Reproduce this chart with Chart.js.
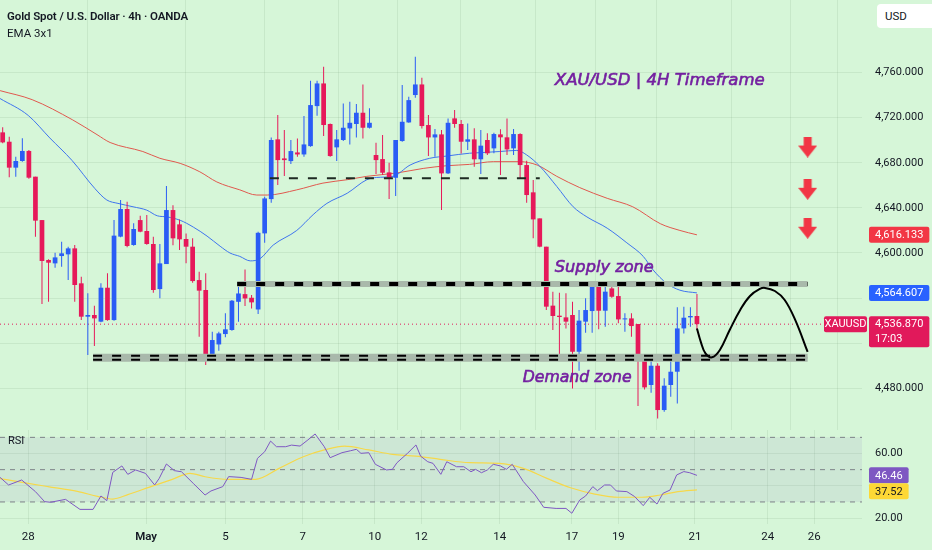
<!DOCTYPE html>
<html>
<head>
<meta charset="utf-8">
<title>XAU/USD 4H</title>
<script src="https://cdn.jsdelivr.net/npm/chart.js@4.4.1/dist/chart.umd.min.js"></script>
<style>
  html, body { margin: 0; padding: 0; }
  body { width: 932px; height: 550px; overflow: hidden; position: relative; background: #d6f6d8;
         font-family: Roboto, "Noto Sans", sans-serif; color: #131722; }
  canvas { position: absolute; left: 0; }
  #priceChart { top: 0; }
  #rsiChart { top: 430px; }
  .legend { position: absolute; left: 7px; white-space: nowrap; z-index: 2; }
  #title { top: 9px; font-size: 11.5px; font-weight: 600; letter-spacing: -0.1px; }
  #ema { top: 26px; font-size: 11.5px; }
  #usd { position: absolute; left: 877px; top: 4px; width: 70px; height: 24px; background: #fff; border-radius: 4px;
         font-size: 11.5px; line-height: 24px; padding-left: 8px; box-sizing: border-box; z-index: 2; }
</style>
</head>
<body>
<canvas id="priceChart" width="932" height="430"></canvas>
<canvas id="rsiChart" width="932" height="120"></canvas>
<div id="title" class="legend">Gold Spot / U.S. Dollar · 4h · OANDA</div>
<div id="ema" class="legend">EMA 3x1</div>
<div id="usd">USD</div>
<script>
// 4h candles, index 0 = first bar on the left
const opens = [4707.0, 4698.7, 4675.7, 4681.6, 4690.5, 4667.7, 4629.2, 4593.8, 4590.8, 4597.3,
  4598.8, 4604.1, 4573.1, 4543.5, 4545.0, 4539.1, 4569.2, 4540.5, 4614.5, 4639.0,
  4607.1, 4629.2, 4619.5, 4608.0, 4568.0, 4590.2, 4638.1, 4625.4, 4612.4, 4605.6,
  4576.0, 4567.2, 4508.0, 4518.9, 4528.1, 4531.7, 4556.7, 4563.5, 4560.3, 4549.9,
  4617.4, 4647.8, 4700.8, 4683.9, 4681.5, 4689.2, 4687.4, 4694.8, 4730.3, 4750.4,
  4714.4, 4693.7, 4700.2, 4710.5, 4714.4, 4724.4, 4711.1, 4686.9, 4683.3, 4671.5,
  4666.7, 4699.3, 4715.8, 4740.1, 4749.5, 4713.5, 4702.5, 4705.2, 4670.6, 4719.4,
  4714.4, 4698.7, 4700.8, 4683.1, 4700.2, 4692.8, 4705.2, 4702.6, 4692.8, 4705.5,
  4678.0, 4653.8, 4630.7, 4605.6, 4553.3, 4544.4, 4542.9, 4545.0, 4512.4, 4539.1,
  4548.5, 4571.6, 4548.8, 4568.6, 4561.8, 4541.1, 4542.0, 4537.0, 4506.5, 4482.9,
  4500.0, 4460.7, 4482.9, 4494.7, 4533.1, 4542.9, 4544.1];
const highs = [4711.5, 4703.2, 4685.4, 4701.7, 4691.3, 4667.7, 4629.2, 4594.4, 4600.3, 4610.0,
  4605.6, 4607.1, 4579.0, 4564.2, 4553.3, 4573.1, 4582.0, 4629.2, 4647.0, 4645.5,
  4626.3, 4633.1, 4633.7, 4614.5, 4608.0, 4659.4, 4642.3, 4629.8, 4617.4, 4613.0,
  4583.4, 4582.0, 4530.2, 4530.2, 4546.5, 4558.3, 4573.1, 4585.4, 4562.7, 4618.8,
  4649.9, 4702.5, 4722.3, 4709.0, 4700.2, 4701.6, 4721.5, 4752.8, 4752.8, 4765.2,
  4714.9, 4709.0, 4732.7, 4734.2, 4732.1, 4749.5, 4728.3, 4697.8, 4704.6, 4680.1,
  4700.2, 4749.0, 4738.6, 4774.1, 4755.5, 4722.3, 4709.9, 4709.0, 4719.4, 4726.8,
  4717.9, 4714.9, 4710.6, 4709.1, 4706.1, 4706.7, 4709.7, 4719.4, 4710.0, 4706.1,
  4681.9, 4664.7, 4630.7, 4605.6, 4565.7, 4564.8, 4564.2, 4556.8, 4549.4, 4559.8,
  4573.7, 4572.2, 4570.1, 4573.1, 4570.1, 4546.5, 4546.5, 4537.0, 4508.0, 4505.0,
  4502.1, 4488.8, 4505.0, 4551.8, 4552.4, 4551.8, 4563.6];
const lows = [4697.3, 4667.1, 4667.7, 4681.0, 4665.9, 4614.5, 4554.7, 4556.8, 4587.0, 4587.9,
  4576.0, 4556.8, 4540.5, 4509.5, 4517.5, 4538.5, 4540.0, 4540.0, 4613.9, 4605.0,
  4606.5, 4618.3, 4607.4, 4564.8, 4559.8, 4590.2, 4606.8, 4602.6, 4590.8, 4573.7,
  4525.7, 4500.6, 4506.5, 4513.3, 4525.2, 4531.1, 4539.0, 4552.9, 4550.8, 4545.8,
  4609.1, 4644.6, 4660.2, 4668.2, 4678.9, 4685.4, 4685.4, 4694.2, 4721.7, 4703.7,
  4685.4, 4681.5, 4699.3, 4696.3, 4702.5, 4701.6, 4710.5, 4670.0, 4669.1, 4647.8,
  4650.5, 4698.7, 4715.5, 4737.7, 4710.5, 4686.0, 4685.4, 4638.1, 4670.0, 4711.1,
  4688.3, 4691.3, 4676.6, 4670.1, 4686.9, 4688.4, 4669.2, 4686.9, 4686.9, 4666.2,
  4644.6, 4613.0, 4605.0, 4549.4, 4531.7, 4510.4, 4533.1, 4479.9, 4495.6, 4529.3,
  4529.3, 4532.3, 4534.6, 4560.4, 4537.6, 4530.2, 4525.7, 4464.2, 4479.0, 4476.1,
  4453.3, 4459.2, 4472.5, 4466.6, 4528.7, 4534.6, 4531.7];
const closes = [4698.1, 4675.7, 4681.6, 4690.5, 4666.8, 4628.7, 4592.9, 4591.4, 4596.1, 4599.7,
  4604.1, 4571.6, 4543.5, 4545.0, 4542.0, 4569.2, 4540.5, 4615.4, 4639.0, 4606.2,
  4621.3, 4618.9, 4608.0, 4567.2, 4590.8, 4638.1, 4613.0, 4612.1, 4605.6, 4575.1,
  4566.6, 4509.5, 4522.8, 4528.7, 4532.3, 4557.7, 4564.1, 4559.7, 4556.2, 4617.9,
  4648.4, 4700.2, 4682.4, 4682.4, 4690.4, 4687.4, 4696.3, 4731.2, 4750.4, 4713.5,
  4686.0, 4700.8, 4711.1, 4715.5, 4724.4, 4711.1, 4715.5, 4682.4, 4671.2, 4666.7,
  4700.2, 4716.4, 4735.6, 4749.5, 4712.6, 4702.5, 4705.2, 4670.6, 4715.5, 4714.4,
  4698.7, 4700.8, 4683.1, 4695.2, 4688.4, 4705.5, 4702.6, 4691.9, 4705.5, 4678.0,
  4651.4, 4629.8, 4605.6, 4552.4, 4544.1, 4543.2, 4539.1, 4512.4, 4540.0, 4549.4,
  4571.6, 4548.8, 4565.7, 4561.2, 4541.1, 4542.0, 4535.2, 4508.0, 4480.8, 4500.0,
  4460.7, 4482.3, 4494.7, 4533.1, 4542.6, 4544.1, 4536.87];

// EMA lines, read at bar positions
const emaFastX = [-0.4, 3.9, 7.2, 10.6, 14.1, 15.9, 17.6, 19.9, 22.0, 23.6, 25.1, 27.1, 29.1, 31.2, 33.2, 34.7,
  36.2, 37.8, 39.3, 41.3, 44.9, 47.4, 49.5, 52.6, 55.6, 57.1, 59.6, 62.2, 65.2, 67.8, 71.3, 72.9, 75.9, 78.5,
  80.0, 82.0, 84.6, 87.1, 89.2, 92.3, 95.3, 97.8, 99.3, 101.4, 103.4, 106];
const emaFastY = [4737, 4722, 4702, 4682, 4657, 4647, 4644, 4641, 4638, 4633, 4632, 4629, 4623, 4615, 4606, 4600,
  4597, 4593, 4595, 4607, 4620, 4634, 4644, 4653, 4665, 4667, 4668, 4678, 4684, 4686, 4688.5, 4689, 4690, 4691,
  4687, 4677, 4659, 4641, 4632, 4622, 4609, 4597, 4585, 4573, 4567, 4564.6];
const emaSlowX = [-0.4, 4.5, 10.7, 14.4, 16.4, 21.4, 24.0, 27.1, 30.1, 32.7, 36.2, 38.8, 40.4, 44.9, 48.9, 52.6,
  55.6, 60.2, 64.2, 67.8, 71.3, 74.9, 79.0, 81.6, 84.6, 88.1, 92.3, 96.2, 100.4, 103.4, 106];
const emaSlowY = [4744, 4736, 4718, 4705, 4698, 4690, 4684, 4679.5, 4672, 4663, 4656, 4651.4, 4651.4, 4656, 4662, 4665,
  4668, 4671, 4675, 4677.4, 4678.6, 4681, 4681, 4678, 4668, 4658, 4648.5, 4641, 4626, 4620, 4616.1];

// RSI pane
const rsiX = [-0.4, 0.9, 2.9, 5.0, 6.4, 7.3, 9.6, 11.8, 13.8, 15.0,
  15.9, 16.8, 18.2, 19.1, 20.3, 21.8, 23.2, 23.9, 25.0, 26.2,
  27.3, 29.1, 30.9, 31.8, 33.6, 34.5, 36.4, 38.0, 38.9, 40.0,
  40.9, 41.8, 43.2, 44.1, 45.4, 46.6, 47.7, 49.1, 50.0, 51.8,
  53.1, 54.0, 54.7, 55.9, 56.9, 58.6, 59.5, 60.2, 61.8, 63.1,
  63.8, 64.9, 65.7, 66.9, 67.8, 69.3, 70.4, 71.5, 72.2, 73.1,
  74.0, 74.9, 76.0, 76.9, 77.8, 79.5, 81.3, 82.6, 84.5, 86.0,
  86.9, 88.1, 89.0, 90.1, 90.8, 91.9, 92.8, 93.7, 95.3, 96.5,
  97.8, 98.8, 99.9, 100.8, 101.9, 102.9, 104.0, 104.9, 106];
const rsiY = [45.2, 40.5, 43.6, 36.4, 30.2, 29.8, 31.6, 25.4, 25.4, 33.7,
  30.8, 48.3, 52.3, 47.1, 49.8, 47.7, 40.5, 44.6, 53.5, 49.4,
  48.7, 41.5, 34.3, 36.8, 39.5, 45.7, 45.2, 44.0, 57.0, 61.1,
  67.7, 64.2, 64.2, 65.2, 64.6, 68.4, 72.1, 64.2, 57.4, 60.5,
  61.7, 62.6, 60.1, 60.5, 53.3, 49.8, 50.2, 54.3, 60.1, 65.3,
  58.4, 54.9, 53.9, 47.1, 54.9, 51.8, 51.8, 48.7, 50.2, 48.1,
  49.8, 53.3, 52.3, 50.2, 53.3, 42.6, 34.3, 26.7, 26.0, 26.0,
  23.0, 31.2, 33.7, 39.5, 37.0, 40.5, 40.5, 36.8, 36.4, 33.3,
  27.7, 32.9, 28.7, 35.3, 37.4, 46.7, 48.8, 48.1, 46.46];
const rsiMaX = [-0.4, 3.2, 6.9, 11.4, 14.5, 16.8, 19.1, 22.3, 25.9, 28.6, 30.9, 34.5, 38.6, 42.2, 45.9, 49.1,
  52.2, 55.9, 59.5, 63.1, 66.8, 71.3, 75.8, 79.5, 83.1, 86.7, 90.4, 94.0, 97.6, 100.4, 103.1, 106];
const rsiMaY = [44.5, 42.0, 39.5, 36.5, 33.5, 31.8, 34.5, 39.0, 44.0, 47.7, 45.6, 44.0, 44.0, 50.8, 58.0, 62.2,
  64.6, 62.2, 59.5, 58.4, 56.4, 54.3, 53.9, 50.8, 44.6, 38.8, 34.9, 32.9, 32.9, 34.3, 36.4, 37.52];

// drawn projection and arrows
const pathX = [106.0, 106.6, 107.3, 108.3, 109.5, 111.0, 112.6, 114.1, 115.6, 116.4, 117.9, 119.4, 121.0, 122.9];
const pathY = [4533, 4521, 4511, 4507.5, 4514, 4531.7, 4549.5, 4561.9, 4568.1, 4569, 4566.3, 4558.3, 4540.6, 4512.2];
const arrowX = 122.9;
const arrowY = [4694, 4656.5, 4622];

// levels
const supplyLevel = 4572.5, supplyFrom = 35.8;
const demandLevel = 4507.0, demandFrom = 13.8;
const resistLevel = 4666.3, resistFrom = 40.8, resistTo = 82.0;
const zoneTo = 122.9;
const lastPrice = 4536.87, emaFastLast = 4564.607, emaSlowLast = 4616.133;
const rsiLast = 46.46, rsiMaLast = 37.52;

// axes
const dayTickX = [3.9, 21.9, 34.0, 45.8, 56.8, 63.9, 75.9, 86.9, 94.0, 105.7, 116.8, 123.9];
const dayLabels = ['28', 'May', '5', '7', '10', '12', '14', '17', '19', '21', '24', '26'];
const priceTicks = [4480, 4520, 4560, 4600, 4640, 4680, 4720, 4760];
const hiddenPriceTicks = [4520, 4560];
const rsiTicks = [20, 40, 60];

const X_MIN = -0.41, X_MAX = 131.2;
const UP = '#2a5cf5', DOWN = '#e6195a', LAST = '#e1195b';
const GRID = 'rgba(20,60,20,0.07)';
const BAND = '#a9b9ab';

Chart.defaults.font.family = 'Roboto, "Noto Sans", sans-serif';
Chart.defaults.font.size = 11;
Chart.defaults.color = '#131722';

const fmt = v => v.toLocaleString('en-US', { minimumFractionDigits: 3, maximumFractionDigits: 3 });
const pts = (xs, ys) => xs.map((x, i) => ({ x, y: ys[i] }));
const candleColor = ctx => closes[ctx.dataIndex] >= opens[ctx.dataIndex] ? UP : DOWN;
const hline = (x0, x1, y, color, width, dash, order) => ({
  type: 'line', data: [{ x: x0, y }, { x: x1, y }], borderColor: color, borderWidth: width,
  borderDash: dash || [], borderCapStyle: 'butt', pointRadius: 0, order
});

const arrowImg = document.createElement('canvas');
arrowImg.width = 19; arrowImg.height = 21;
(() => {
  const a = arrowImg.getContext('2d');
  a.fillStyle = '#f23645';
  a.beginPath();
  a.moveTo(5.5, 0); a.lineTo(13.5, 0); a.lineTo(13.5, 9); a.lineTo(19, 9);
  a.lineTo(9.5, 21); a.lineTo(0, 9); a.lineTo(5.5, 9); a.closePath(); a.fill();
})();

const rightAxisFit = s => { s.width = 70; s.paddingTop = 0; s.paddingBottom = 0; };

const notes = [
  { text: 'XAU/USD | 4H Timeframe', x: 84.3, y: 4752.5, w: 210 },
  { text: 'Supply zone', x: 84.3, y: 4586.7, w: 99 },
  { text: 'Demand zone', x: 79.4, y: 4489.3, w: 109 }
];

const roundBox = (ctx, x, y, w, h, r) => {
  ctx.beginPath();
  if (ctx.roundRect) ctx.roundRect(x, y, w, h, r); else ctx.rect(x, y, w, h);
  ctx.fill();
};

const mainOverlay = {
  id: 'mainOverlay',
  afterDraw(chart) {
    const { ctx, chartArea, scales: { x, y } } = chart;
    ctx.save();
    ctx.textBaseline = 'middle';
    ctx.textAlign = 'left';
    notes.forEach(n => {
      ctx.font = 'italic 17px "DejaVu Sans"';
      const size = 17 * n.w / ctx.measureText(n.text).width;
      ctx.font = `italic ${size.toFixed(2)}px "DejaVu Sans"`;
      ctx.fillStyle = '#7420a0';
      ctx.strokeStyle = '#7420a0';
      ctx.lineWidth = 0.6;
      const px = x.getPixelForValue(n.x), py = y.getPixelForValue(n.y);
      ctx.fillText(n.text, px, py);
      ctx.strokeText(n.text, px, py);
    });

    ctx.font = '11px Roboto';
    const left = chartArea.right + 7;
    const tag = (val, bg, lines) => {
      const cy = y.getPixelForValue(val);
      const w = Math.max(...lines.map(t => ctx.measureText(t).width)) + 12;
      ctx.fillStyle = bg;
      roundBox(ctx, left, cy - 8, w, 16 + (lines.length - 1) * 15, 2);
      ctx.fillStyle = '#fff';
      lines.forEach((t, i) => ctx.fillText(t, left + 6, cy + 0.5 + i * 15));
      return cy;
    };
    tag(emaSlowLast, '#f23645', [fmt(emaSlowLast)]);
    tag(emaFastLast, '#2962ff', [fmt(emaFastLast)]);
    const cy = tag(lastPrice, LAST, [fmt(lastPrice), '17:03']);
    ctx.fillStyle = LAST;
    roundBox(ctx, chartArea.right - 38, cy - 8, 43, 16, 2);
    ctx.fillStyle = '#fff';
    ctx.textAlign = 'center';
    ctx.fillText('XAUUSD', chartArea.right - 16.5, cy + 0.5);
    ctx.restore();
  }
};

new Chart(document.getElementById('priceChart'), {
  type: 'bar',
  data: {
    datasets: [
      hline(X_MIN, X_MAX, lastPrice, LAST, 1, [1, 3], 30),
      { type: 'line', data: pts(emaSlowX, emaSlowY), borderColor: '#e0584e', borderWidth: 1, pointRadius: 0,
        cubicInterpolationMode: 'monotone', order: 25 },
      { type: 'line', data: pts(emaFastX, emaFastY), borderColor: '#3f74ee', borderWidth: 1, pointRadius: 0,
        cubicInterpolationMode: 'monotone', order: 24 },
      { type: 'bar', data: opens.map((_, i) => ({ x: i, y: [lows[i], highs[i]] })), backgroundColor: candleColor,
        grouped: false, maxBarThickness: 1, order: 20 },
      { type: 'bar', data: opens.map((_, i) => ({ x: i, y: [opens[i], closes[i]] })), backgroundColor: candleColor,
        grouped: false, maxBarThickness: 5, minBarLength: 1, order: 19 },
      hline(resistFrom, resistTo, resistLevel, '#1e2a22', 2, [9, 10], 10),
      hline(supplyFrom, zoneTo, supplyLevel, BAND, 6, [], 9),
      hline(supplyFrom, zoneTo, supplyLevel, '#000', 4, [9, 10], 8),
      hline(demandFrom, zoneTo, demandLevel, BAND, 8, [], 7),
      hline(demandFrom, zoneTo, demandLevel, '#000', 6, [9, 10], 6),
      hline(demandFrom, zoneTo, demandLevel, BAND, 2, [], 5),
      { type: 'line', data: pts(pathX, pathY), borderColor: '#000', borderWidth: 2, tension: 0.4, pointRadius: 0, order: 2 },
      { type: 'scatter', data: arrowY.map(y => ({ x: arrowX, y })), pointStyle: arrowImg, pointRadius: 10, order: 1 }
    ]
  },
  options: {
    responsive: false,
    animation: false,
    events: [],
    layout: { padding: 0, autoPadding: false },
    plugins: { legend: { display: false }, tooltip: { enabled: false } },
    scales: {
      x: {
        type: 'linear', min: X_MIN, max: X_MAX, offset: false,
        grid: { color: GRID, drawTicks: false }, border: { display: false },
        ticks: { display: false },
        afterBuildTicks: s => { s.ticks = dayTickX.map(v => ({ value: v })); }
      },
      y: {
        type: 'linear', position: 'right', min: 4443.0, max: 4824.4,
        grid: { color: GRID, drawTicks: false }, border: { display: false },
        ticks: { padding: 13, callback: v => hiddenPriceTicks.includes(v) ? '' : fmt(v) },
        afterBuildTicks: s => { s.ticks = priceTicks.map(v => ({ value: v })); },
        afterFit: rightAxisFit
      }
    }
  },
  plugins: [mainOverlay]
});

const rsiOverlay = {
  id: 'rsiOverlay',
  afterDraw(chart) {
    const { ctx, chartArea, scales: { y } } = chart;
    ctx.save();
    ctx.textBaseline = 'middle';
    ctx.textAlign = 'left';
    ctx.font = '11px Roboto';
    ctx.fillStyle = '#131722';
    ctx.fillText('RSI', 8, 11);
    const left = chartArea.right + 7;
    const c1 = y.getPixelForValue(rsiLast);
    const c2 = Math.max(y.getPixelForValue(rsiMaLast), c1 + 16);
    [[c1, '#7e57c2', '#fff', rsiLast], [c2, '#fdd835', '#131722', rsiMaLast]].forEach(([cy, bg, fg, v]) => {
      const t = v.toFixed(2);
      ctx.fillStyle = bg;
      roundBox(ctx, left, cy - 8, ctx.measureText(t).width + 12, 16, 2);
      ctx.fillStyle = fg;
      ctx.fillText(t, left + 6, cy + 0.5);
    });
    ctx.restore();
  }
};

new Chart(document.getElementById('rsiChart'), {
  type: 'line',
  data: {
    datasets: [
      { data: [{ x: X_MIN, y: 70 }, { x: X_MAX, y: 70 }], borderWidth: 0, pointRadius: 0, order: 10 },
      { data: [{ x: X_MIN, y: 30 }, { x: X_MAX, y: 30 }], borderWidth: 0, pointRadius: 0, fill: '-1',
        backgroundColor: 'rgba(126,87,194,0.09)', order: 9 },
      hline(X_MIN, X_MAX, 70, '#7d8288', 1, [5, 5], 8),
      hline(X_MIN, X_MAX, 50, '#7d8288', 1, [5, 5], 8),
      hline(X_MIN, X_MAX, 30, '#7d8288', 1, [5, 5], 8),
      { data: pts(rsiMaX, rsiMaY), borderColor: '#f6d84a', borderWidth: 1.2, pointRadius: 0,
        cubicInterpolationMode: 'monotone', order: 2 },
      { data: pts(rsiX, rsiY), borderColor: '#7e57c2', borderWidth: 1, pointRadius: 0, order: 1 }
    ]
  },
  options: {
    responsive: false,
    animation: false,
    events: [],
    layout: { padding: 0, autoPadding: false },
    plugins: { legend: { display: false }, tooltip: { enabled: false } },
    scales: {
      x: {
        type: 'linear', min: X_MIN, max: X_MAX, offset: false,
        grid: { color: GRID, drawTicks: false }, border: { display: false },
        ticks: {
          autoSkip: false, maxRotation: 0, padding: 6,
          font: ctx => ({ size: 11.5, weight: dayLabels[ctx.index] === 'May' ? '600' : 'normal' }),
          callback: (v, i) => dayLabels[i]
        },
        afterBuildTicks: s => { s.ticks = dayTickX.map(v => ({ value: v })); },
        afterFit: s => { s.height = 26; s.paddingLeft = 0; s.paddingRight = 0; }
      },
      y: {
        type: 'linear', position: 'right', min: 16.35, max: 74.55,
        grid: { color: GRID, drawTicks: false }, border: { display: false },
        ticks: { padding: 13, callback: v => v === 40 ? '' : v.toFixed(2) },
        afterBuildTicks: s => { s.ticks = rsiTicks.map(v => ({ value: v })); },
        afterFit: rightAxisFit
      }
    }
  },
  plugins: [rsiOverlay]
});
</script>
</body>
</html>
